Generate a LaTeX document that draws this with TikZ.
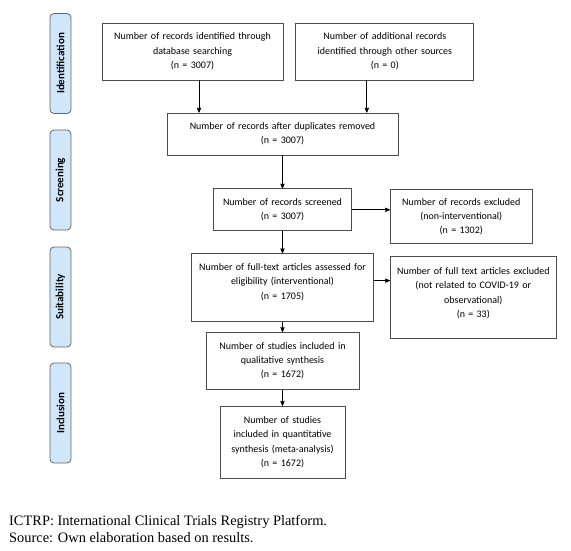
\documentclass[tikz,border=0pt]{standalone}
\usepackage{fontspec}
\setmainfont{Liberation Serif}
\setsansfont{Carlito}
\usetikzlibrary{calc}
\usetikzlibrary{positioning}
\usetikzlibrary{arrows}
\definecolor{phasenblau}{RGB}{208,231,250}
\tikzset{
	>=stealth',
	punkt/.style={
		rectangle, 
		draw=black!70, line width=0.8pt,
		align=center,
		inner sep=3pt,
		font=\sffamily\fontsize{10}{14.3}\selectfont},
	phase/.style={
		rectangle, 
		rounded corners=4pt,
		fill=phasenblau,
		draw=black!60, line width=0.8pt,
		rotate=90,
		minimum width=100pt,
		minimum height=21pt,
		font=\sffamily\bfseries\fontsize{11}{13}\selectfont},
	line/.style={draw, line width=0.8pt, ->},
	fuss/.style={anchor=base west, inner sep=0pt, font=\fontsize{14.4}{17}\selectfont},
}

\begin{document}
\begin{tikzpicture}
		[x=1pt, y=-1pt]
		\useasboundingbox (0,0) rectangle (571,551);
		% phases
		\node[phase] (ident) at (60.5,63.5) {Identification};
		\node[phase] (scree) at (60.5,180) {Screening};
		\node[phase] (suita) at (60.5,297) {Suitability};
		\node[phase] (inclu) at (60.5,413) {Inclusion};
		% boxes
		\node[punkt, text width=175pt, minimum height=57pt] (eins) at (192.5,51.5) {Number of records identified through\\database searching\\(n = 3007)};
		\node[punkt, text width=172pt, minimum height=57pt, right=12pt of eins] (zwei) {Number of additional records\\identified through other sources\\(n = 0)};
		\node[punkt, text width=225pt, minimum height=42pt] (drei) at (282.5,134) {Number of records after duplicates removed\\(n = 3007)};
		\node[punkt, text width=132pt, minimum height=42pt, below=33pt of drei] (vier) {Number of records screened\\(n = 3007)};
		\node[punkt, text width=136pt, minimum height=54pt, right=38pt of vier.north east, anchor=north west, yshift=-1pt] (fuenf) {Number of records excluded\\(non-interventional)\\(n = 1302)};
		\node[punkt, text width=176pt, text height=14pt, text depth=48pt, below=22pt of vier] (sechs) {Number of full-text articles assessed for\\eligibility (interventional)\\(n = 1705)};
		\node[punkt, text width=160pt, text height=15pt, text depth=61pt, right=16pt of sechs.north east, anchor=north west, yshift=-3pt] (sieben) {Number of full text articles excluded\\(not related to COVID-19 or\\observational)\\(n = 33)};
		\node[punkt, text width=147pt, minimum height=57pt, below=10pt of sechs] (acht) {Number of studies included in\\qualitative synthesis\\(n = 1672)};
		\node[punkt, text width=119pt, minimum height=72pt, below=16pt of acht] (neun) {Number of studies\\included in quantitative\\synthesis (meta-analysis)\\(n = 1672)};
		% arrows
		\coordinate (ea) at ($(eins.south)+(6.5,0)$);
		\coordinate (za) at ($(zwei.south)+(-18,0)$);
		\coordinate (sa) at ($(sechs.east)+(0,-7)$);
		\draw[line] (ea) -- (ea |- drei.north);
		\draw[line] (za) -- (za |- drei.north);
		\draw[line] (drei) -- (vier);
		\draw[line] (vier.east) -- (vier.east -| fuenf.west);
		\draw[line] (vier) -- (sechs);
		\draw[line] (sa) -- (sa -| sieben.west);
		\draw[line] (sechs) -- (acht);
		\draw[line] (acht) -- (neun);
		% note
		\node[fuss] (notiz) at (9,525) {ICTRP: International Clinical Trials Registry Platform.};
		\node[fuss] (quelle) at (9,542) {Source: Own elaboration based on results.};
		\end{tikzpicture}
\end{document}
